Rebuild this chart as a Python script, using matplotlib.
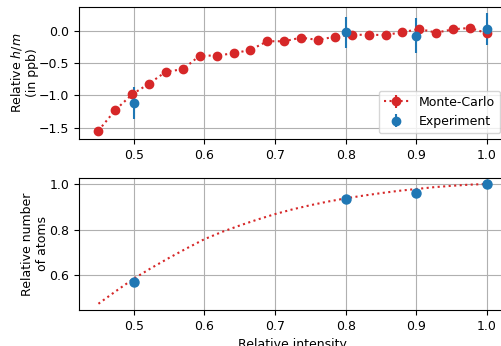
import matplotlib
matplotlib.use('Agg')
import matplotlib.pyplot as plt
import numpy as np

# Monte-Carlo simulation (top panel)
mc_intensity = np.linspace(0.45, 1.0, 24)
mc_hm = [-1.546, -1.228, -0.984, -0.819, -0.634, -0.597, -0.386, -0.386,
         -0.350, -0.298, -0.164, -0.164, -0.108, -0.144, -0.093, -0.062,
         -0.066, -0.066, -0.025, 0.026, -0.031, 0.021, 0.042, -0.040]
mc_err = [0.02] * 24

# Experimental points
exp_intensity = [0.5, 0.8, 0.9, 1.0]
exp_hm = [-1.123, -0.025, -0.077, 0.021]
exp_hm_err = [0.247, 0.24, 0.265, 0.245]
exp_atoms = [0.572, 0.934, 0.959, 1.0]

# Relative number of atoms from the model (bottom panel)
model_intensity = [0.45, 0.475, 0.5, 0.525, 0.55, 0.575, 0.6, 0.625, 0.65, 0.675,
                   0.7, 0.725, 0.75, 0.775, 0.8, 0.825, 0.85, 0.875, 0.9, 0.925,
                   0.95, 0.975, 1.0]
model_atoms = [0.475, 0.531, 0.585, 0.632, 0.676, 0.718, 0.758, 0.790, 0.818, 0.844,
               0.868, 0.889, 0.907, 0.923, 0.937, 0.949, 0.960, 0.970, 0.978, 0.986,
               0.992, 0.997, 1.000]

plt.rcParams['font.size'] = 9
fig = plt.figure(figsize=(5.02, 3.46), dpi=100)
ax1 = fig.add_axes([0.1574, 0.5974, 0.8512, 0.3832])
ax2 = fig.add_axes([0.1574, 0.1040, 0.8512, 0.3824])

ax1.errorbar(mc_intensity, mc_hm, yerr=mc_err, fmt='o:', color='tab:red',
             markersize=6, label='Monte-Carlo')
ax1.errorbar(exp_intensity, exp_hm, yerr=exp_hm_err, fmt='o', color='tab:blue',
             markersize=6, label='Experiment')
ax1.set_ylabel('Relative $h/m$\n(in ppb)', labelpad=0)
ax1.set_ylim(-1.68, 0.37)
ax1.legend(loc='lower right')

ax2.plot(model_intensity, model_atoms, ':', color='tab:red')
ax2.plot(exp_intensity, exp_atoms, 'o', color='tab:blue', markersize=6.5)
ax2.set_ylabel('Relative number\nof atoms', labelpad=0)
ax2.set_xlabel('Relative intensity')
ax2.set_ylim(0.4475, 1.0276)

for ax in (ax1, ax2):
    ax.set_xlim(0.4225, 1.0275)
    ax.set_xticks([0.5, 0.6, 0.7, 0.8, 0.9, 1.0])
    ax.grid(True)

fig.savefig('out.png', dpi=100)
